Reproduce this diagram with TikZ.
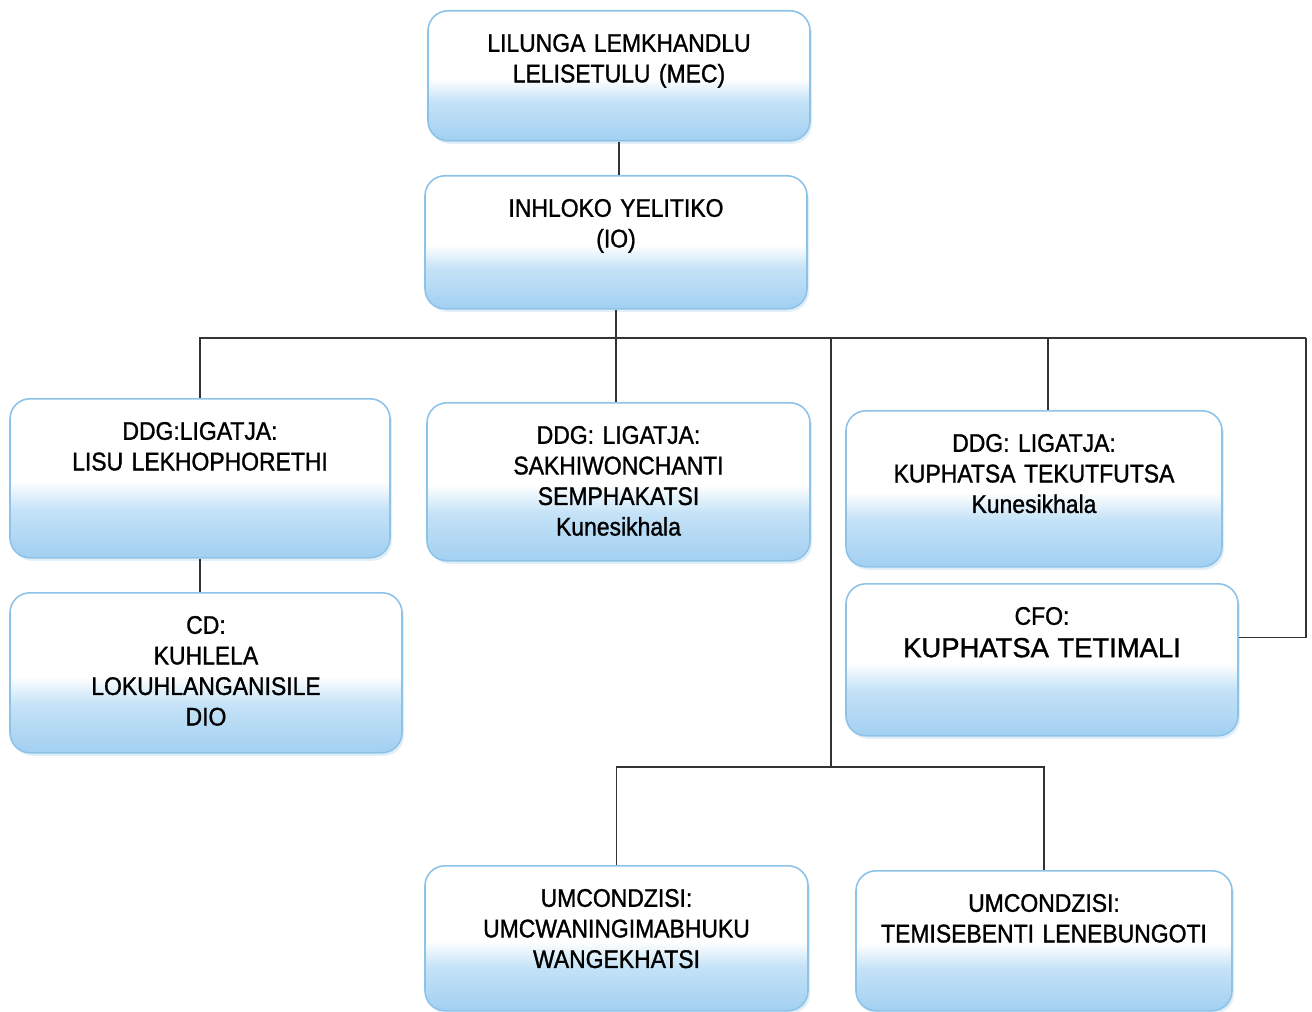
\documentclass[tikz,border=0pt]{standalone}
\usepackage{fontspec}
\setmainfont{Liberation Sans}[FakeStretch=0.9, FakeBold=1.2, WordSpace=0.75]
\newfontfamily\widefont{Liberation Sans}[FakeBold=1.2, WordSpace=0.85]
\usetikzlibrary{positioning,shadows}
\definecolor{boxblue}{RGB}{162,208,241}
\definecolor{boxblueL}{RGB}{196,226,247}
\definecolor{boxedge}{RGB}{142,195,233}
\pgfdeclareverticalshading{unitshade}{100bp}{color(0bp)=(boxblue); color(25bp)=(boxblue); color(40bp)=(boxblueL); color(49bp)=(white); color(100bp)=(white)}

\begin{document}
\begin{tikzpicture}[
        unit/.style={draw=boxedge, line width=0.9pt, rounded corners=0.4cm, shading=unitshade,
            drop shadow={opacity=0.25, shadow xshift=0.04cm, shadow yshift=-0.06cm, fill=boxedge},
            anchor=north, align=center, inner sep=0pt, text height=0.82cm,
            font=\fontsize{14.5}{17.4}\selectfont},
        link/.style={draw=black!80, line width=0.8pt}
    ]
        \path[fill=white, use as bounding box] (0,0) rectangle (26.24,-20.24);
        % top of the chart
        \node[unit, text width=7.64cm, text depth=1.78cm] (mec) at (12.38,-0.2) {LILUNGA LEMKHANDLU\\ LELISETULU (MEC)};
        \node[unit, text width=7.64cm, text depth=1.84cm] (io)  at (12.32,-3.5) {INHLOKO YELITIKO\\ (IO)};
        % branches
        \node[unit, text width=7.6cm,  text depth=2.36cm] (lisu)    at (4.0,-7.96)   {DDG:LIGATJA:\\ LISU LEKHOPHORETHI};
        \node[unit, text width=7.66cm, text depth=2.34cm] (sakhiwo) at (12.37,-8.04) {DDG: LIGATJA:\\ SAKHIWONCHANTI\\ SEMPHAKATSI\\ Kunesikhala};
        \node[unit, text width=7.52cm, text depth=2.3cm]  (kuphatsa) at (20.68,-8.2) {DDG: LIGATJA:\\ KUPHATSA TEKUTFUTSA\\ Kunesikhala};
        \node[unit, text width=7.84cm, text depth=2.22cm] (cfo) at (20.84,-11.66) {CFO:\\[1pt] {\widefont\fontsize{15.6}{18}\selectfont KUPHATSA TETIMALI}};
        \node[unit, text width=7.84cm, text depth=2.38cm] (cd)  at (4.12,-11.84)  {CD:\\ KUHLELA\\ LOKUHLANGANISILE\\ DIO};
        \node[unit, text width=7.66cm, text depth=2.08cm] (audit) at (12.33,-17.3) {UMCONDZISI:\\ UMCWANINGIMABHUKU\\ WANGEKHATSI};
        \node[unit, text width=7.52cm, text depth=1.98cm] (hr)    at (20.88,-17.4) {UMCONDZISI:\\ TEMISEBENTI LENEBUNGOTI};
        % connectors
        \coordinate (busR) at (26.12,-6.76);
        \coordinate (busM) at (16.62,-6.76);
        \coordinate (busK) at (20.96,-6.76);
        \coordinate (fork) at (16.62,-15.34);
        \draw[link] (mec.south) -- (mec.south |- io.north);
        \draw[link] (io.south) -- (io.south |- sakhiwo.north);
        \draw[link] (lisu.north) |- (busR);
        \draw[link] (lisu.south) -- (lisu.south |- cd.north);
        \draw[link] (busK) -- (busK |- kuphatsa.north);
        \draw[link] (busR) |- ([yshift=0.44cm]cfo.east);
        \draw[link] (busM) -- (fork);
        \draw[link] (audit.north) |- (fork) -| (hr.north);
    \end{tikzpicture}
\end{document}
